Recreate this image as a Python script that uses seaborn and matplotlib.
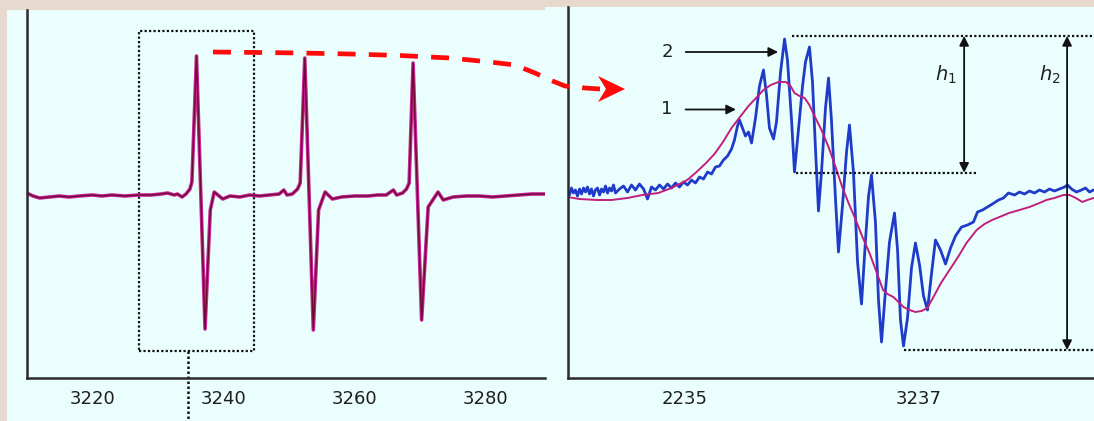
import numpy as np
import seaborn as sns
import matplotlib.pyplot as plt
from matplotlib.patches import Rectangle, Polygon
from matplotlib.lines import Line2D

sns.set_style("white")
plt.rcParams['font.family'] = ['DejaVu Sans']

# ---- overview spectrum (left), field in G, intensity in arb. units
field_all = [3210.0, 3211.0, 3212.0, 3213.5, 3215.0, 3216.5, 3218.0, 3220.0, 3221.5, 3223.0,
             3225.0, 3227.0, 3229.0, 3230.5, 3231.5, 3232.5, 3233.0, 3233.7, 3234.3, 3234.9,
             3235.2, 3235.9, 3237.2, 3238.0, 3238.6, 3239.9, 3241.0, 3242.5, 3244.0, 3245.5,
             3247.0, 3248.5, 3249.2, 3249.7, 3250.5, 3251.3, 3251.7, 3252.4, 3253.7, 3254.5,
             3255.5, 3256.6, 3258.0, 3260.0, 3262.0, 3263.5, 3264.8, 3265.9, 3266.4, 3267.3,
             3267.9, 3268.3, 3268.9, 3270.2, 3271.2, 3272.7, 3273.5, 3275.0, 3277.0, 3279.0,
             3281.0, 3283.0, 3285.0, 3287.0, 3289.0]
signal_all = [2, -1, -3, -2, -1, -2, -1, 0, -1, 0,
              -1, 0, 0, 1, 2, 0, 1, -2, 1, 6,
              13, 139, -134, -15, 3, -4, -1, -2, 0, -1,
              0, 1, 5, 0, 1, 6, 12, 137, -135, -15,
              3, -4, -2, -1, -1, 0, 0, 5, 0, 2,
              6, 12, 132, -125, -12, 3, -5, -2, -1, -1,
              -2, -1, 0, 1, 1]

# ---- zoomed first line (right): curve 2 (blue, resolved) and curve 1 (magenta)
field_2 = [3234.000, 3234.017, 3234.034, 3234.051, 3234.068, 3234.085, 3234.103, 3234.120, 3234.137, 3234.154,
           3234.171, 3234.188, 3234.205, 3234.222, 3234.239, 3234.256, 3234.274, 3234.291, 3234.308, 3234.325,
           3234.342, 3234.359, 3234.376, 3234.393, 3234.410, 3234.444, 3234.479, 3234.513, 3234.547, 3234.581,
           3234.615, 3234.650, 3234.684, 3234.718, 3234.752, 3234.786, 3234.821, 3234.855, 3234.889, 3234.923,
           3234.957, 3234.991, 3235.026, 3235.060, 3235.094, 3235.128, 3235.162, 3235.197, 3235.231, 3235.265,
           3235.299, 3235.333, 3235.368, 3235.402, 3235.427, 3235.453, 3235.470, 3235.496, 3235.521, 3235.547,
           3235.573, 3235.607, 3235.641, 3235.675, 3235.701, 3235.726, 3235.761, 3235.786, 3235.821, 3235.855,
           3235.880, 3235.915, 3235.940, 3235.974, 3236.009, 3236.034, 3236.068, 3236.094, 3236.120, 3236.145,
           3236.171, 3236.205, 3236.231, 3236.256, 3236.291, 3236.316, 3236.350, 3236.385, 3236.410, 3236.444,
           3236.479, 3236.513, 3236.547, 3236.573, 3236.598, 3236.632, 3236.658, 3236.684, 3236.718, 3236.752,
           3236.795, 3236.821, 3236.846, 3236.872, 3236.906, 3236.940, 3236.974, 3237.009, 3237.043, 3237.077,
           3237.111, 3237.145, 3237.188, 3237.231, 3237.274, 3237.316, 3237.368, 3237.419, 3237.470, 3237.504,
           3237.547, 3237.590, 3237.632, 3237.684, 3237.726, 3237.769, 3237.821, 3237.863, 3237.906, 3237.949,
           3237.991, 3238.034, 3238.077, 3238.120, 3238.162, 3238.205, 3238.248, 3238.274, 3238.308, 3238.350,
           3238.393, 3238.427, 3238.462, 3238.496]
signal_2 = [5, 0, 7, 2, 5, -1, 6, 1, 7, 3,
            8, 1, 6, -1, 5, 7, 0, 6, 3, 9,
            2, 7, 4, 10, 2, 6, 9, 3, 10, 5,
            11, 6, -4, 8, 5, 10, 6, 11, 7, 12,
            8, 13, 10, 15, 12, 18, 16, 23, 21, 28,
            29, 35, 39, 46, 55, 69, 75, 67, 59, 63,
            52, 77, 109, 125, 100, 67, 56, 73, 123, 156,
            135, 75, 23, 65, 109, 133, 148, 113, 45, -16,
            23, 87, 117, 75, -5, -57, -11, 43, 70, 23,
            -67, -109, -45, -1, 20, -27, -105, -147, -95, -47,
            -18, -55, -125, -151, -123, -73, -48, -70, -101, -115,
            -79, -45, -55, -69, -53, -41, -32, -30, -27, -17,
            -15, -12, -9, -5, -3, 2, 0, 3, 1, 4,
            2, 5, 3, 6, 4, 6, 8, 10, 6, 3,
            5, 7, 3, 5]

field_1 = [3234.000, 3234.103, 3234.252, 3234.376, 3234.513, 3234.641, 3234.776, 3234.889, 3235.023, 3235.103,
           3235.184, 3235.256, 3235.329, 3235.402, 3235.474, 3235.547, 3235.620, 3235.675, 3235.737, 3235.803,
           3235.868, 3235.906, 3235.940, 3235.983, 3236.027, 3236.068, 3236.115, 3236.171, 3236.231, 3236.291,
           3236.348, 3236.402, 3236.464, 3236.521, 3236.581, 3236.641, 3236.697, 3236.735, 3236.785, 3236.829,
           3236.872, 3236.923, 3236.974, 3237.026, 3237.075, 3237.128, 3237.192, 3237.265, 3237.338, 3237.410,
           3237.497, 3237.564, 3237.629, 3237.692, 3237.774, 3237.863, 3237.949, 3238.034, 3238.094, 3238.162,
           3238.239, 3238.291, 3238.327, 3238.359, 3238.400, 3238.444, 3238.496]
signal_1 = [-2, -4, -5, -5, -3, 0, 2, 7, 15, 23,
            32, 41, 53, 67, 78, 89, 98, 105, 110, 113,
            113, 109, 102, 99, 97, 90, 78, 65, 48, 28,
            8, -8, -25, -42, -58, -77, -95, -99, -102, -107,
            -112, -115, -117, -116, -113, -102, -88, -75, -62, -48,
            -35, -29, -25, -22, -18, -15, -12, -8, -5, -3,
            0, 0, -2, -4, -7, -5, -3]

left_ticks = [3220, 3240, 3260, 3280]
right_ticks = [3235, 3237]
right_ticklabels = ["2235", "3237"]

W, H = 1094, 421
fig = plt.figure(figsize=(W / 100, H / 100), dpi=100)
fig.patch.set_facecolor('#e8d9ce')
cyan = '#ebfefe'
# panel backgrounds
fig.add_artist(Rectangle((7 / W, 0), (546 - 7) / W, (H - 10) / H, transform=fig.transFigure,
                         facecolor=cyan, edgecolor='none', zorder=0))
fig.add_artist(Rectangle((545 / W, 0), (W - 545) / W, (H - 7) / H, transform=fig.transFigure,
                         facecolor=cyan, edgecolor='none', zorder=0))


def px2fig(x, y):
    return x / W, 1 - y / H


ax1 = fig.add_axes([26.5 / W, (H - 378) / H, (545 - 26.5) / W, (378 - 10) / H])
ax2 = fig.add_axes([567.5 / W, (H - 378) / H, (W - 567.5) / W, (378 - 7) / H])

for ax in (ax1, ax2):
    ax.set_facecolor('none')
    for s in ['top', 'right']:
        ax.spines[s].set_visible(False)
    for s in ['left', 'bottom']:
        ax.spines[s].set_color('#2a2a2a')
        ax.spines[s].set_linewidth(1.8)
    ax.set_yticks([])
    ax.tick_params(axis='x', direction='in', length=6, width=1.3, color='#2a2a2a',
                   labelsize=13, labelcolor='#1e1e1e', pad=9)
    ax.set_xlabel('')
    ax.set_ylabel('')

# left: overview
sns.lineplot(x=field_all, y=signal_all, ax=ax1, color='#c8249a', lw=2.6, sort=False, estimator=None)
sns.lineplot(x=field_all, y=signal_all, ax=ax1, color='#6e0a2c', lw=1.0, sort=False, estimator=None)
ax1.set_xlim(3210, 3289)
ax1.set_ylim(-183, 185)
ax1.set_xticks(left_ticks)
ax1.set_xticklabels([str(t) for t in left_ticks])
ax1.add_patch(Rectangle((3227.1, -156), 3244.7 - 3227.1, 164 + 156, fill=False,
                        edgecolor='#111111', lw=1.6, linestyle=(0, (1, 1))))
ax1.plot([3234.66, 3234.66], [-156, -226], color='#111111', lw=1.8, linestyle=(0, (1, 1)),
         clip_on=False)

# right: zoom on first line
sns.lineplot(x=field_2, y=signal_2, ax=ax2, color='#1f3cc8', lw=2.0, sort=False, estimator=None)
sns.lineplot(x=field_1, y=signal_1, ax=ax2, color='#c01f7c', lw=1.4, sort=False, estimator=None)
ax2.set_xlim(3234.0, 3238.5)
ax2.set_ylim(-183, 188)
ax2.set_xticks(right_ticks)
ax2.set_xticklabels(right_ticklabels)

dot = dict(color='#111111', lw=1.6, linestyle=(0, (1, 1)))
ax2.plot([3235.92, 3238.5], [159, 159], clip_on=False, **dot)
ax2.plot([3235.95, 3237.50], [22.3, 22.3], **dot)
ax2.plot([3236.88, 3238.5], [-155, -155], clip_on=False, **dot)

arr = dict(arrowstyle='<|-|>', color='#111111', lw=1.3, mutation_scale=14, shrinkA=0, shrinkB=0)
ax2.annotate('', xy=(3237.39, 159), xytext=(3237.39, 22.3), arrowprops=arr)
ax2.annotate('', xy=(3238.27, 159), xytext=(3238.27, -155), arrowprops=arr)
ax2.text(3237.23, 120, r'$h_1$', fontsize=14, color='#222222', ha='center', va='center')
ax2.text(3238.12, 120, r'$h_2$', fontsize=14, color='#222222', ha='center', va='center')

one = dict(arrowstyle='-|>', color='#111111', lw=1.3, mutation_scale=14, shrinkA=0, shrinkB=0)
ax2.annotate('2', xy=(3235.80, 143), xytext=(3234.85, 143), fontsize=13, color='#1e1e1e',
             ha='center', va='center', arrowprops=dict(one, shrinkA=7))
ax2.annotate('1', xy=(3235.44, 85.5), xytext=(3234.85, 85.5), fontsize=13, color='#1e1e1e',
             ha='center', va='center', arrowprops=dict(one, shrinkA=7))

# red dashed connector between the panels
path = [(213, 52), (260, 52.5), (300, 53), (350, 54), (400, 55.5), (450, 58), (490, 62),
        (515, 65), (535, 73), (550, 80), (565, 86), (585, 88), (600, 89)]
fx, fy = zip(*[px2fig(x, y) for x, y in path])
fig.add_artist(Line2D(fx, fy, transform=fig.transFigure, color='#ff0a0a', lw=3.4,
                      dashes=(3.8, 2.8), solid_capstyle='butt', dash_capstyle='butt', zorder=5))
head = [px2fig(625, 89), px2fig(598, 76), px2fig(606, 89), px2fig(598, 102)]
fig.add_artist(Polygon(head, closed=True, transform=fig.transFigure, facecolor='#ff0a0a',
                       edgecolor='none', zorder=5))

plt.savefig('out.png', dpi=100)
